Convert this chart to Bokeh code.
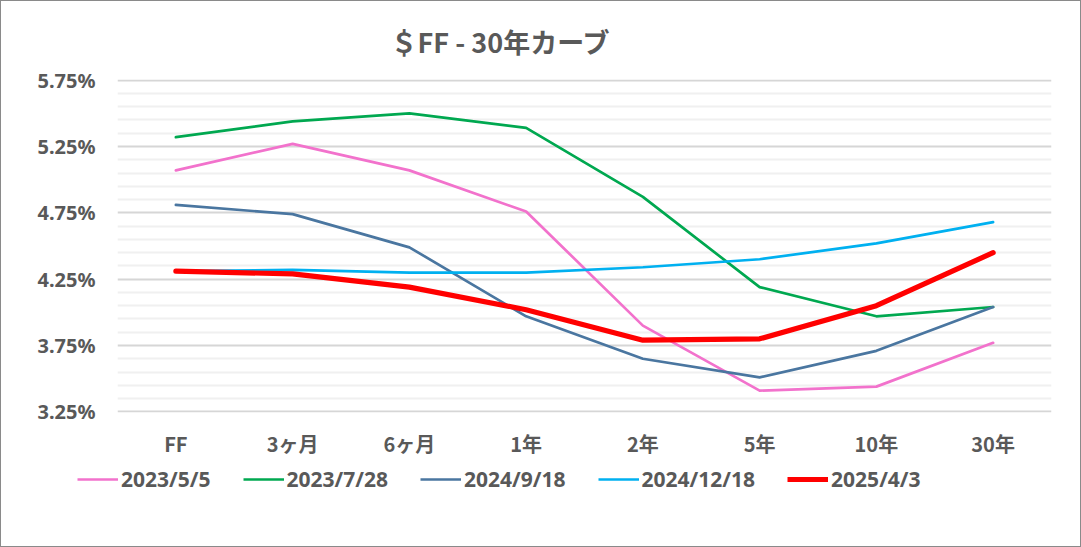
from bokeh.plotting import figure
from bokeh.layouts import column, row
from bokeh.models import (FactorRange, Range1d, FixedTicker, PrintfTickFormatter,
                          Legend, LegendItem)
from bokeh.embed import file_html
from bokeh.resources import INLINE

categories = ["FF", "3ヶ月", "6ヶ月", "1年", "2年", "5年", "10年", "30年"]
series_names = ["2023/5/5", "2023/7/28", "2024/9/18", "2024/12/18", "2025/4/3"]
s_2023_05_05 = [5.07, 5.27, 5.07, 4.76, 3.90, 3.41, 3.44, 3.77]
s_2023_07_28 = [5.32, 5.44, 5.50, 5.39, 4.87, 4.19, 3.97, 4.04]
s_2024_09_18 = [4.81, 4.74, 4.49, 3.97, 3.65, 3.51, 3.71, 4.04]
s_2024_12_18 = [4.31, 4.32, 4.30, 4.30, 4.34, 4.40, 4.52, 4.68]
s_2025_04_03 = [4.31, 4.29, 4.19, 4.02, 3.79, 3.80, 4.05, 4.45]
y_ticks = [3.25, 3.75, 4.25, 4.75, 5.25, 5.75]
y_minor = [3.35, 3.45, 3.55, 3.65, 3.85, 3.95, 4.05, 4.15, 4.35, 4.45, 4.55, 4.65,
           4.85, 4.95, 5.05, 5.15, 5.35, 5.45, 5.55, 5.65]

series = [s_2023_05_05, s_2023_07_28, s_2024_09_18, s_2024_12_18, s_2025_04_03]
colors = ["#F272CC", "#00A850", "#4A76A0", "#00B0F0", "#FF0000"]
widths = [2.7, 2.7, 2.7, 2.7, 5.2]

TEXT = "#595959"

p = figure(width=1079, height=465, x_range=FactorRange(*categories),
           y_range=Range1d(3.245, 5.755), output_backend="svg", toolbar_location=None,
           min_border_left=116, min_border_right=29, min_border_top=77,
           min_border_bottom=54)

p.title.text = "＄FF - 30年カーブ"
p.title.text_font = "Noto Sans CJK JP"
p.title.text_font_size = "27px"
p.title.text_font_style = "bold"
p.title.text_color = TEXT
p.title.align = "left"
p.title.offset = 273
p.title.standoff = 37

p.outline_line_color = None
p.background_fill_color = "white"
p.border_fill_color = "white"

# grids
p.xgrid.grid_line_color = None
p.yaxis.ticker = FixedTicker(ticks=y_ticks, minor_ticks=y_minor)
p.ygrid.grid_line_color = "#D6D6D6"
p.ygrid.grid_line_width = 2
p.ygrid.minor_grid_line_color = "#F0F0F0"
p.ygrid.minor_grid_line_width = 2

# axes
for ax in (p.xaxis, p.yaxis):
    ax.axis_line_color = None
    ax.major_tick_line_color = None
    ax.minor_tick_line_color = None
    ax.major_label_text_color = TEXT
    ax.major_label_text_font_style = "bold"
p.yaxis.formatter = PrintfTickFormatter(format="%.2f%%")
p.yaxis.major_label_text_font = "Noto Sans"
p.yaxis.major_label_text_font_size = "20px"
p.yaxis.major_label_standoff = 16
p.xaxis.major_label_text_font = "Noto Sans CJK JP"
p.xaxis.major_label_text_font_size = "20px"
p.xaxis.major_label_standoff = 10

for vals, c, w in zip(series, colors, widths):
    p.line(categories, vals, line_color=c, line_width=w, line_join="round",
           line_cap="round")

# legend strip below the chart
lf = figure(width=1079, height=80, x_range=Range1d(0, 1), y_range=Range1d(0, 1),
            x_axis_type=None, y_axis_type=None, output_backend="svg",
            toolbar_location=None, min_border=0)
lf.outline_line_color = None
lf.xgrid.visible = False
lf.ygrid.visible = False
lf.border_fill_color = "white"

items = []
for name, c, w in zip(series_names, colors, widths):
    r = lf.line([0, 1], [-5, -5], line_color=c, line_width=w, line_cap="butt")
    items.append(LegendItem(label=name, renderers=[r]))

legend = Legend(items=items, orientation="horizontal", location=(76, 53),
                padding=0, margin=0, spacing=32, label_standoff=3,
                glyph_width=41, glyph_height=24, label_height=24,
                label_text_font="Noto Sans", label_text_font_size="21px",
                label_text_font_style="bold", label_text_color=TEXT,
                border_line_color=None, background_fill_alpha=0)
lf.add_layout(legend, "center")

layout = column(p, row(lf, spacing=0), spacing=0)
layout.styles = {"border": "1px solid #8a8a8a", "background-color": "white"}

open("out.html", "w").write(file_html(layout, INLINE))
